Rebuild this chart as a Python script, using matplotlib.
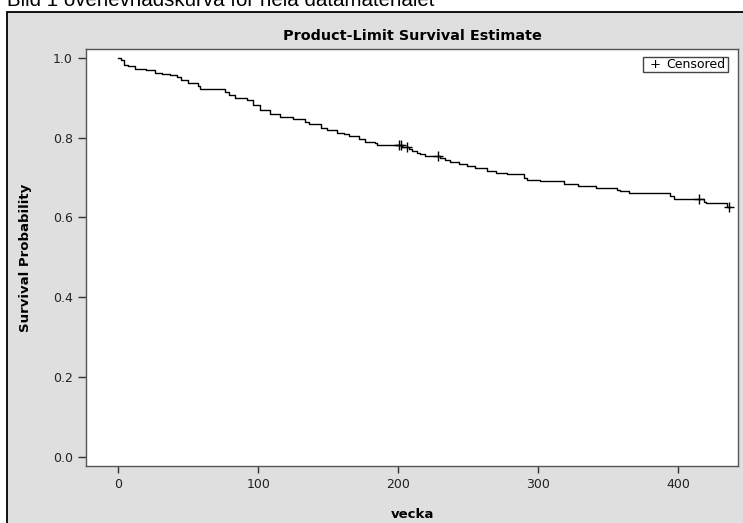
import matplotlib
matplotlib.use("Agg")
import matplotlib.pyplot as plt
from matplotlib.patches import Rectangle
import numpy as np

# ---- data ----
event_times = [0, 1.7, 4, 7, 12, 20, 26, 31, 37, 42, 45, 50, 57, 58, 66, 76, 79, 83,
               92, 96.5, 101, 108.4, 115.5, 125, 133.4, 136, 145, 149, 156, 161, 164.5,
               171.6, 176, 183, 185, 202.5, 207.4, 209.8, 213, 215.5, 219, 229.8, 233,
               237, 243, 249, 255, 263, 270, 277.5, 290, 292, 301, 318, 319, 328, 341,
               356, 358, 364.5, 382, 394, 396.6, 418, 420, 434.7]
survival = [1.0, 0.994, 0.982, 0.979, 0.973, 0.969, 0.963, 0.960, 0.958, 0.952, 0.944,
            0.936, 0.930, 0.923, 0.921, 0.915, 0.907, 0.900, 0.894, 0.882, 0.869, 0.858,
            0.852, 0.846, 0.840, 0.833, 0.825, 0.819, 0.812, 0.808, 0.804, 0.796, 0.790,
            0.786, 0.781, 0.777, 0.771, 0.767, 0.762, 0.759, 0.755, 0.748, 0.744, 0.740,
            0.734, 0.729, 0.724, 0.717, 0.712, 0.709, 0.698, 0.694, 0.691, 0.685, 0.683,
            0.679, 0.674, 0.669, 0.666, 0.662, 0.660, 0.654, 0.647, 0.639, 0.635, 0.627]
end_time = 437
censored_times = [200.7, 201.8, 206, 228.6, 415, 436]

x_ticks = [0, 100, 200, 300, 400]
y_ticks = [0.0, 0.2, 0.4, 0.6, 0.8, 1.0]
caption = "Bild 1 överlevnadskurva för hela datamaterialet"
title = "Product-Limit Survival Estimate"
xlabel = "vecka"
ylabel = "Survival Probability"
legend_label = "Censored"

W, H = 743, 523
fig = plt.figure(figsize=(W / 100, H / 100), dpi=100)
fig.patch.set_facecolor("white")

# outer gray panel
panel = Rectangle((7 / W, -0.1), 1.2, (H - 12) / H + 0.1, transform=fig.transFigure,
                  facecolor="#dfdfdf", edgecolor="black", linewidth=1.3, zorder=-10)
fig.patches.append(panel)

fig.text(7 / W, 1 - 6 / H, caption, fontsize=14.8, family="Liberation Sans",
         va="baseline", ha="left", color="black")

left, right, bottom, top = 85.7, 738, 465.7, 49
ax = fig.add_axes([left / W, 1 - bottom / H, (right - left) / W, (bottom - top) / H])
ax.set_zorder(1)
ax.set_facecolor("white")

xs = list(event_times) + [end_time]
ys = list(survival) + [survival[-1]]
ax.step(xs, ys, where="post", color="black", linewidth=1.0, zorder=3)

cens_y = [survival[np.searchsorted(event_times, t, side="right") - 1] for t in censored_times]
ax.plot(censored_times, cens_y, linestyle="none", marker="+", markersize=7,
        markeredgewidth=1.0, color="black", zorder=4)

ax.set_xlim(-23.3, 442.6)
ax.set_ylim(-0.022, 1.022)
ax.set_xticks(x_ticks)
ax.set_xticklabels([str(v) for v in x_ticks])
ax.set_yticks(y_ticks)
ax.set_yticklabels([f"{v:.1f}" for v in y_ticks])

for s in ax.spines.values():
    s.set_color("#555555")
    s.set_linewidth(1.0)

ax.tick_params(axis="x", direction="out", length=4.8, width=1, color="#333333",
               labelsize=9, labelcolor="#222222", pad=4)
ax.tick_params(axis="y", direction="out", length=5.8, width=1, color="#333333",
               labelsize=9, labelcolor="#222222", pad=3.5)
for lab in ax.get_xticklabels() + ax.get_yticklabels():
    lab.set_family("DejaVu Sans")

fig.text(412 / W, 1 - 40.5 / H, title, fontsize=10.4, fontweight="bold",
         family="DejaVu Sans", ha="center", va="baseline")
fig.text(412 / W, 1 - 518 / H, xlabel, fontsize=9.5, fontweight="bold",
         family="DejaVu Sans", ha="center", va="baseline")
fig.text(26 / W, 1 - 257.4 / H, ylabel, fontsize=9.5, fontweight="bold",
         family="DejaVu Sans", ha="center", va="center", rotation=90)

# legend box (drawn in axes so it sits above the plot area)
leg_l, leg_r, leg_t, leg_b = 642.7, 728.3, 56.7, 72.3
ax.add_patch(Rectangle((leg_l / W, 1 - leg_b / H), (leg_r - leg_l) / W,
                       (leg_b - leg_t) / H, transform=fig.transFigure,
                       facecolor="white", edgecolor="#444444", linewidth=1.0,
                       zorder=5, clip_on=False))
ax.text(655 / W, 1 - 64.5 / H, "+", fontsize=9.5, family="DejaVu Sans",
        ha="center", va="center", zorder=6, transform=fig.transFigure)
ax.text(666 / W, 1 - 64.5 / H, legend_label, fontsize=9, family="DejaVu Sans",
        ha="left", va="center", zorder=6, transform=fig.transFigure)

fig.savefig("out.png", dpi=100)
